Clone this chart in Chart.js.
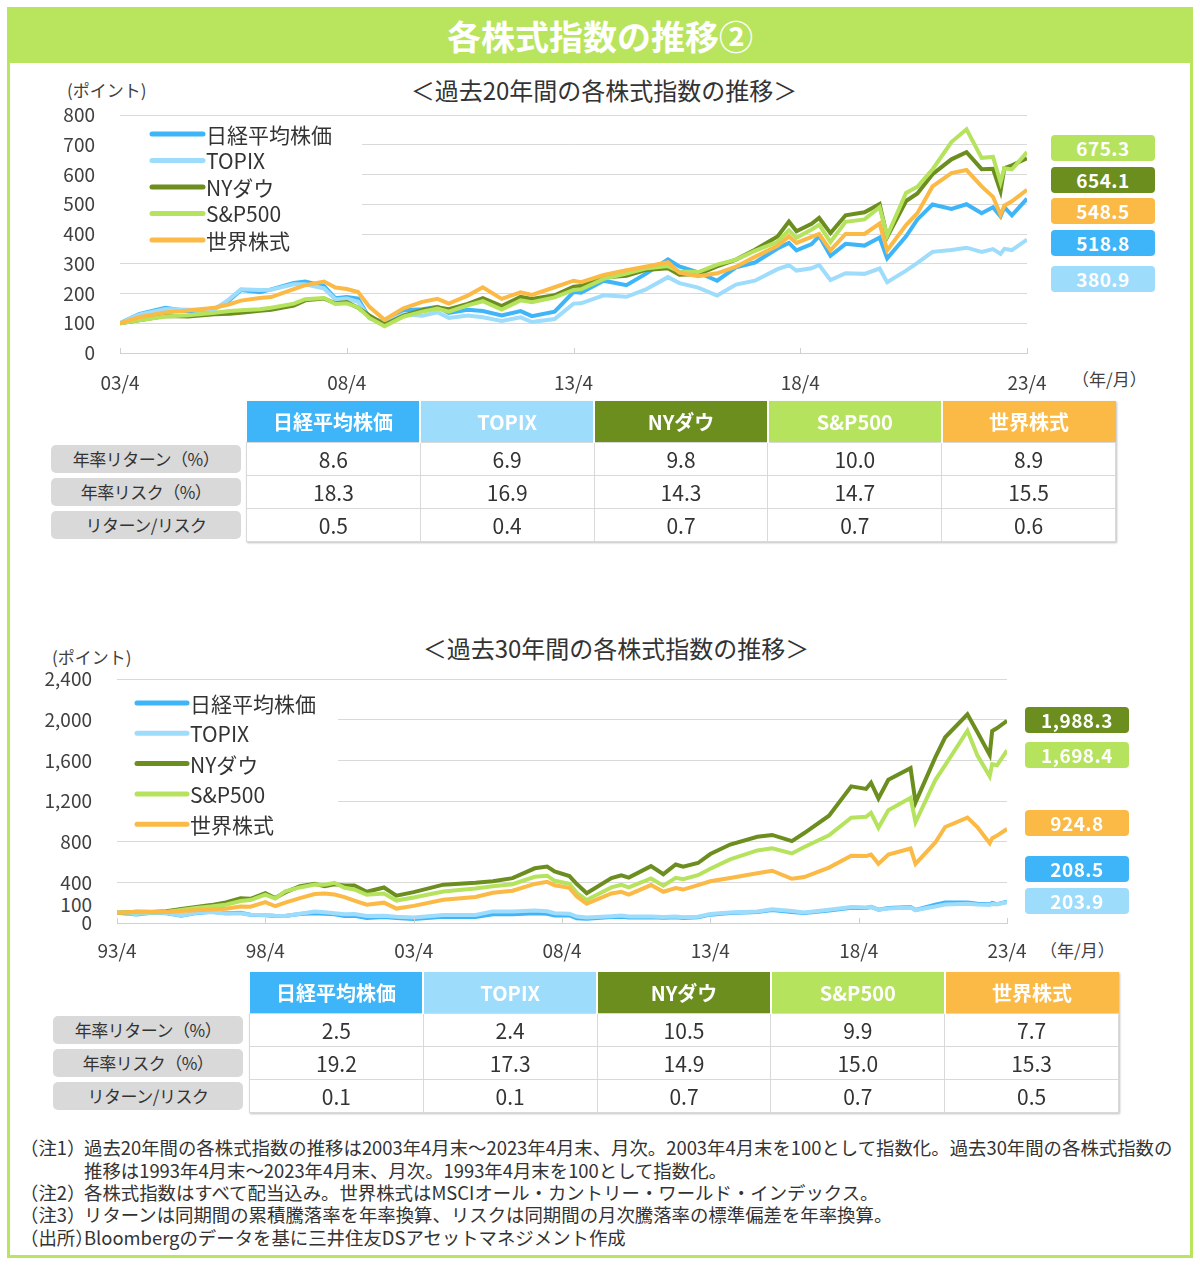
<!DOCTYPE html>
<html lang="ja">
<head>
<meta charset="utf-8">
<title>各株式指数の推移②</title>
<script src="https://cdn.jsdelivr.net/npm/chart.js@4.4.1/dist/chart.umd.min.js"></script>
<style>
  * { box-sizing: border-box; }
  body { margin: 0; width: 1200px; height: 1265px; background: #fff; position: relative; overflow: hidden;
         font-family: "Noto Sans CJK JP", "Noto Sans", sans-serif; color: #333; }
  .abs { position: absolute; white-space: nowrap; }
  #frame { left: 7px; top: 7px; width: 1186px; height: 1251px; border: 3px solid #b9e55e; }
  #titlebar { left: 7px; top: 7px; width: 1186px; height: 56px; background: #b9e55e; color: #fff;
              font-weight: bold; font-size: 34px; line-height: 58px; text-align: center; }
  .sub { font-size: 24px; line-height: 30px; transform: translateX(-50%); }
  .unit { font-size: 17px; line-height: 22px; color: #404040; }
  .ylab { font-size: 19px; line-height: 22px; color: #404040; text-align: right; width: 60px; }
  .vbox { width: 104px; height: 26px; border-radius: 4px; color: #fff; font-weight: bold; font-size: 19px;
          line-height: 26px; text-align: center; letter-spacing: 0.5px; }
  .rowlab { width: 190px; height: 28px; border-radius: 5px; background: #d9d9d9; font-size: 17px;
            line-height: 28px; text-align: center; color: #333; letter-spacing: -0.5px; }
  table.stat { position: absolute; border-collapse: collapse; table-layout: fixed; width: 870px;
               box-shadow: 1px 1px 2px rgba(0,0,0,0.25); }
  table.stat th { height: 41px; color: #fff; font-size: 20px; font-weight: bold; border-left: 2px solid #fff; padding: 0; }
  table.stat th:first-child { border-left: 0; }
  table.stat td { height: 33px; border: 1px solid #d9d9d9; text-align: center; font-size: 21px; padding: 0; color: #333; }
  .note { font-size: 18.4px; line-height: 22px; color: #333; }
</style>
</head>
<body>
<div id="frame" class="abs"></div>
<div id="titlebar" class="abs">各株式指数の推移②</div>

<div class="abs sub" style="left:604px; top:75px;">＜過去20年間の各株式指数の推移＞</div>
<div class="abs unit" style="left:67px; top:79px;">(ポイント)</div>
<div class="abs unit" style="left:1072px; top:368px;">（年/月）</div>
<canvas id="c20" class="abs" width="1030" height="310" style="left:20px; top:95px;"></canvas>

<div class="abs sub" style="left:616px; top:633px;">＜過去30年間の各株式指数の推移＞</div>
<div class="abs unit" style="left:52px; top:646px;">(ポイント)</div>
<div class="abs unit" style="left:1040px; top:939px;">（年/月）</div>
<div class="abs ylab" style="left:32px; top:893px;">100</div>
<canvas id="c30" class="abs" width="1010" height="320" style="left:17px; top:660px;"></canvas>

<script>
// ---- series (2003/4 = 100), x = months since 2003/4
const months20 = [0,5,12,18,25,29,32,37,40,46,
  49,54,57,60,63,66,70,75,80,84,
  87,92,96,101,106,109,115,120,122,128,
  134,139,145,148,153,158,163,168,174,177,
  179,183,185,188,192,197,201,203,208,211,
  215,220,224,228,231,233,234,236,240];
const nikkei20 = [100,131,152,140,147,178,212,204,214,235,
  240,225,184,188,183,118,104,144,147,155,
  135,145,141,126,141,124,139,205,203,243,
  228,265,315,291,271,243,288,304,351,370,
  345,366,393,327,367,361,388,318,392,449,
  499,484,500,470,490,459,490,463,518.8];
const topix20 = [100,129,148,145,145,182,214,212,213,231,
  231,217,180,183,172,117,103,130,125,137,
  118,126,120,108,120,104,114,166,167,194,
  189,213,255,235,220,193,230,243,282,295,
  277,285,296,245,268,266,284,238,277,303,
  340,346,354,340,349,333,350,346,380.9];
const dow20 = [100,110,124,123,130,132,135,142,145,159,
  177,183,167,171,152,126,96,126,145,154,
  147,165,184,158,189,182,194,223,225,254,
  260,279,285,263,265,291,314,347,392,442,
  409,434,454,403,463,473,501,390,511,536,
  601,651,675,618,619,544,621,631,654.1];
const sp20 = [100,110,123,127,135,141,144,147,152,166,
  181,185,165,167,153,118,90,122,139,149,
  139,160,174,146,177,171,187,212,214,249,
  267,284,292,274,272,297,314,343,374,412,
  387,415,431,373,441,449,490,394,538,559,
  617,709,752,656,659,574,621,617,675.3];
const world20 = [100,120,136,143,152,164,176,185,188,215,
  228,240,220,215,205,155,112,150,172,182,
  166,193,221,182,204,195,221,243,238,262,
  278,290,305,270,258,268,290,323,360,392,
  370,390,400,345,400,400,435,345,430,470,
  560,605,615,560,525,465,495,510,548.5];
const xLabels20 = ['03/4','08/4','13/4','18/4','23/4'];

// ---- series (1993/4 = 100), x = months since 1993/4
const months30 = [0,8,14,20,26,32,38,44,50,54,
  60,64,68,74,80,84,88,92,96,101,
  108,113,120,132,145,152,160,169,174,177,
  183,186,190,200,204,207,216,221,226,229,
  235,240,248,259,265,273,278,288,297,303,
  305,308,312,321,323,331,335,344,348,353,
  354,356,360];
const nikkei30 = [100,84,100,95,71,97,110,95,101,81,
  77,70,69,88,95,90,85,70,71,50,
  59,48,40.2,61,59,85,86,96,90,74,
  74,47,42,59,62,54,57,51,57,50,
  56,82,98,107,127,109,98,122,149,147,
  158,131,148,156,128,180,201,201,189,185,
  197,186,208.5];
const topix30 = [100,89,104,98,74,100,109,94,94,81,
  79,72,70,91,113,105,96,85,88,68,
  71,62,53.5,79,78,114,114,124,116,96,
  92,63,55,67,73,63,64,58,64,56,
  61,89,104,114,136,118,103,130,158,152,
  158,131,143,152,127,162,182,189,182,178,
  187,185,203.9];
const dow30 = [100,111,108,116,139,158,176,203,244,238,
  293,245,301,363,385,362,380,368,369,307,
  349,269,304,377,395,410,441,538,556,508,
  462,383,292,441,468,447,559,480,575,553,
  590,678,772,848,866,806,885,1055,1344,1319,
  1380,1225,1408,1523,1186,1629,1827,2052,1879,1654,
  1888,1918,1988.3];
const sp30 = [100,107,103,108,129,147,162,180,217,226,
  278,240,311,350,378,377,396,347,330,277,
  290,221,251.5,309,340,362,382,455,465,415,
  385,297,226,350,375,350,438,367,445,430,
  470,533,626,714,734,684,747,863,1036,1044,
  1084,938,1109,1232,991,1406,1552,1891,1650,1444,
  1562,1552,1698.4];
const world30 = [100,110,110,108,118,125,133,140,162,160,
  205,165,200,245,285,290,280,255,220,180,
  200,142,168.6,229,256,297,317,384,405,371,
  346,261,189,290,307,280,373,307,344,329,
  373,410,442,489,514,435,452,545,661,658,
  674,582,674,733,582,792,944,1037,944,784,
  835,860,924.8];
const xLabels30 = ['93/4','98/4','03/4','08/4','13/4','18/4','23/4'];

// ---- table values
const seriesNames = ['日経平均株価', 'TOPIX', 'NYダウ', 'S&P500', '世界株式'];
const seriesColors = ['#3db5f8', '#9edcfc', '#6b8e1f', '#b5e35d', '#fbb945'];
const statLabels = ['年率リターン（%）', '年率リスク（%）', 'リターン/リスク'];
const ret20 = [8.6, 6.9, 9.8, 10.0, 8.9];
const risk20 = [18.3, 16.9, 14.3, 14.7, 15.5];
const rr20 = [0.5, 0.4, 0.7, 0.7, 0.6];
const ret30 = [2.5, 2.4, 10.5, 9.9, 7.7];
const risk30 = [19.2, 17.3, 14.9, 15.0, 15.3];
const rr30 = [0.1, 0.1, 0.7, 0.7, 0.5];

const notes = [
  ['（注1）', '過去20年間の各株式指数の推移は2003年4月末～2023年4月末、月次。2003年4月末を100として指数化。過去30年間の各株式指数の'],
  ['', '推移は1993年4月末～2023年4月末、月次。1993年4月末を100として指数化。'],
  ['（注2）', '各株式指数はすべて配当込み。世界株式はMSCIオール・カントリー・ワールド・インデックス。'],
  ['（注3）', 'リターンは同期間の累積騰落率を年率換算、リスクは同期間の月次騰落率の標準偏差を年率換算。'],
  ['（出所）', 'Bloombergのデータを基に三井住友DSアセットマネジメント作成']
];

const FONT = '"Noto Sans CJK JP", "Noto Sans", sans-serif';
Chart.defaults.font.family = FONT;

// legend drawn inside the plot + small inward ticks on the x axis
const insideLegend = {
  id: 'insideLegend',
  afterDatasetsDraw(chart, args, o) {
    const ctx = chart.ctx;
    const area = chart.chartArea;
    const xs = chart.scales.x;
    ctx.save();
    ctx.strokeStyle = '#d0d0d0';
    ctx.lineWidth = 1;
    xs.ticks.forEach(t => {
      const x = Math.round(xs.getPixelForValue(t.value)) + 0.5;
      ctx.beginPath();
      ctx.moveTo(x, area.bottom);
      ctx.lineTo(x, area.bottom - 5);
      ctx.stroke();
    });
    ctx.fillStyle = '#fff';
    ctx.fillRect(area.left, o.coverTop, o.coverRight - area.left, o.coverBottom - o.coverTop);
    ctx.font = '21px ' + FONT;
    ctx.textBaseline = 'middle';
    chart.data.datasets.forEach((ds, i) => {
      const y = o.top + i * o.rowH;
      ctx.strokeStyle = ds.borderColor;
      ctx.lineWidth = 5;
      ctx.lineCap = 'round';
      ctx.beginPath();
      ctx.moveTo(o.left, y);
      ctx.lineTo(o.left + o.lineW, y);
      ctx.stroke();
      ctx.fillStyle = '#333';
      ctx.fillText(ds.label, o.left + o.lineW + 3, y + 1);
    });
    ctx.restore();
  }
};

function points(xs, ys) {
  return xs.map((x, i) => ({ x: x, y: ys[i] }));
}

function makeChart(id, xs, series, cfg) {
  const datasets = series.map((ys, i) => ({
    label: seriesNames[i],
    data: points(xs, ys),
    borderColor: seriesColors[i],
    backgroundColor: seriesColors[i],
    borderWidth: 4,
    pointRadius: 0,
    tension: 0,
    order: [5, 4, 3, 2, 1][i]
  }));
  const tickFont = { size: 19, family: FONT };
  return new Chart(document.getElementById(id), {
    type: 'line',
    data: { datasets: datasets },
    plugins: [insideLegend],
    options: {
      responsive: false,
      animation: false,
      layout: { padding: { top: cfg.padTop, right: cfg.padRight, left: 0, bottom: 0 } },
      plugins: {
        legend: { display: false },
        tooltip: { enabled: false },
        insideLegend: cfg.legend
      },
      scales: {
        x: {
          type: 'linear',
          min: 0,
          max: xs[xs.length - 1],
          ticks: {
            stepSize: 60,
            autoSkip: false,
            maxRotation: 0,
            padding: cfg.xPad,
            color: '#404040',
            font: tickFont,
            callback: (v, i) => cfg.xLabels[i]
          },
          grid: { display: false, drawTicks: false },
          border: { color: '#d0d0d0' },
          // fixed axis size; edge labels live in the layout padding
          afterFit: a => { a.height = cfg.xHeight; a.paddingLeft = 0; a.paddingRight = 0; }
        },
        y: {
          min: 0,
          max: cfg.yMax,
          ticks: {
            stepSize: cfg.yStep,
            padding: 25,
            color: '#404040',
            font: tickFont,
            callback: v => v.toLocaleString('en-US')
          },
          grid: { color: '#d9d9d9', drawTicks: false },
          border: { display: false },
          afterFit: a => { a.width = 100; a.paddingTop = 0; a.paddingBottom = 0; }
        }
      }
    }
  });
}

makeChart('c20', months20, [nikkei20, topix20, dow20, sp20, world20], {
  padTop: 20, padRight: 23, xHeight: 52, xPad: 18, yMax: 800, yStep: 100, xLabels: xLabels20,
  legend: { left: 132, lineW: 51, top: 39, rowH: 26.5, coverTop: 25, coverBottom: 160, coverRight: 342 }
});
makeChart('c30', months30, [nikkei30, topix30, dow30, sp30, world30], {
  padTop: 19, padRight: 20, xHeight: 57, xPad: 16, yMax: 2400, yStep: 400, xLabels: xLabels30,
  legend: { left: 120, lineW: 50, top: 43, rowH: 30.3, coverTop: 30, coverBottom: 170, coverRight: 321 }
});

// ---- end-value boxes
function valueBoxes(series, order, tops, left) {
  order.forEach((s, k) => {
    const ys = series[s];
    const v = ys[ys.length - 1];
    const d = document.createElement('div');
    d.className = 'abs vbox';
    d.style.left = left + 'px';
    d.style.top = tops[k] + 'px';
    d.style.background = seriesColors[s];
    d.textContent = v.toLocaleString('en-US', { minimumFractionDigits: 1, maximumFractionDigits: 1 });
    document.body.appendChild(d);
  });
}
valueBoxes([nikkei20, topix20, dow20, sp20, world20], [3, 2, 4, 0, 1], [135, 167, 198, 230, 266], 1051);
valueBoxes([nikkei30, topix30, dow30, sp30, world30], [2, 3, 4, 0, 1], [707, 742, 810, 856, 888], 1025);

// ---- stat tables
function statTable(left, top, labLeft, rows) {
  const t = document.createElement('table');
  t.className = 'stat';
  t.style.left = left + 'px';
  t.style.top = top + 'px';
  let html = '<tr>' + seriesNames.map((n, i) => '<th style="background:' + seriesColors[i] + '">' + n + '</th>').join('') + '</tr>';
  rows.forEach(r => {
    html += '<tr>' + r.map(v => '<td>' + v.toFixed(1) + '</td>').join('') + '</tr>';
  });
  t.innerHTML = html;
  document.body.appendChild(t);
  statLabels.forEach((s, i) => {
    const d = document.createElement('div');
    d.className = 'abs rowlab';
    d.style.left = labLeft + 'px';
    d.style.top = (top + 44 + i * 33) + 'px';
    d.textContent = s;
    document.body.appendChild(d);
  });
}
statTable(246, 401, 51, [ret20, risk20, rr20]);
statTable(249, 972, 53, [ret30, risk30, rr30]);

// ---- notes
const noteTops = [1136, 1159, 1181, 1203, 1226];
notes.forEach((n, i) => {
  if (n[0]) {
    const a = document.createElement('div');
    a.className = 'abs note';
    a.style.left = '20px';
    a.style.top = noteTops[i] + 'px';
    a.textContent = n[0];
    document.body.appendChild(a);
  }
  const b = document.createElement('div');
  b.className = 'abs note';
  b.style.left = '84px';
  b.style.top = noteTops[i] + 'px';
  b.textContent = n[1];
  document.body.appendChild(b);
});
</script>
</body>
</html>
